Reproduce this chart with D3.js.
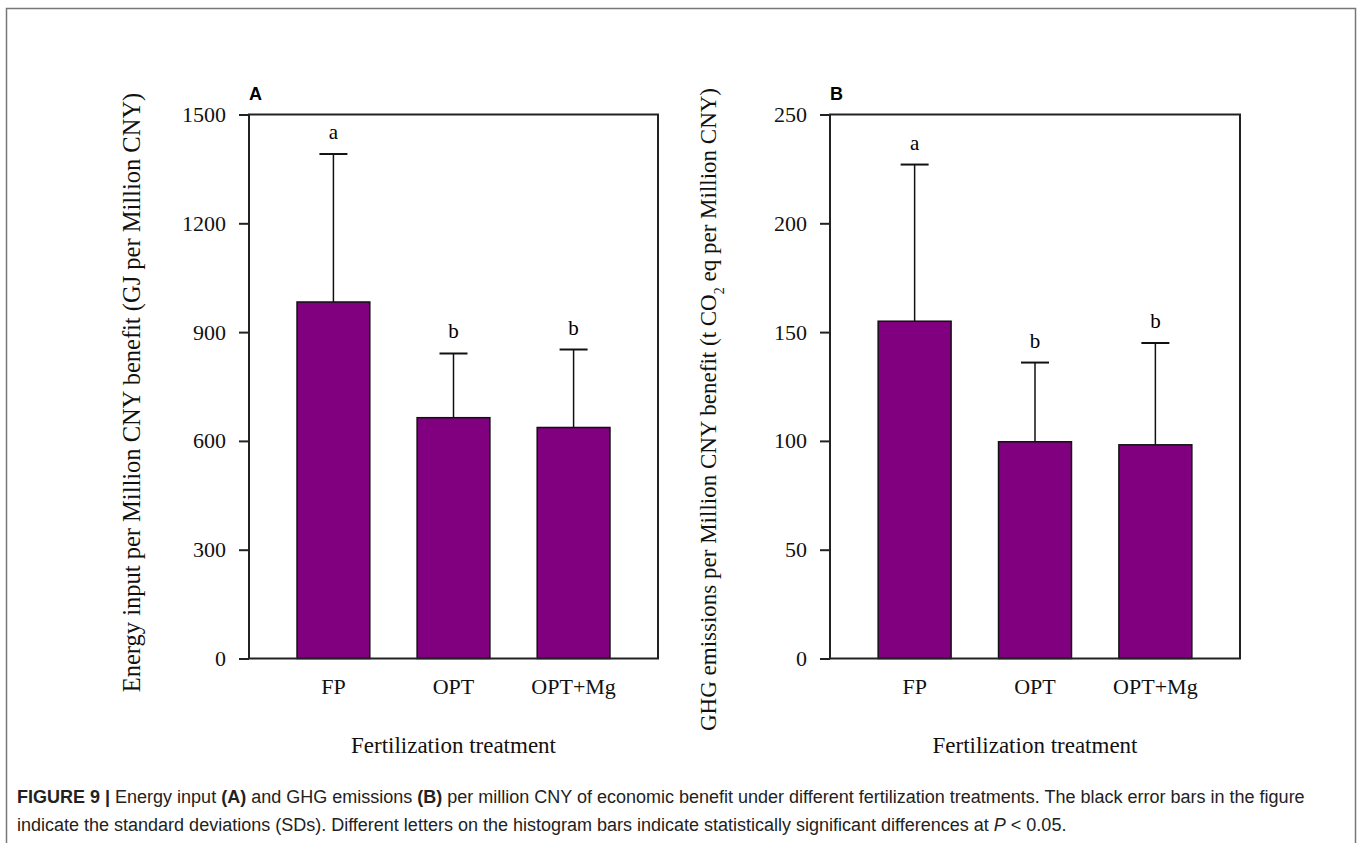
<!DOCTYPE html>
<html>
<head>
<meta charset="utf-8">
<script src="https://cdn.jsdelivr.net/npm/d3@7"></script>
<style>
  body { margin: 0; background: #fff; }
  svg { display: block; }
</style>
</head>
<body>
<div id="chart"></div>
<script>
// data
const categories = ["FP", "OPT", "OPT+Mg"];
const energyMeans = [983, 664, 637];
const energySD = [408, 177, 215];
const energyLetters = ["a", "b", "b"];
const energyTicks = [0, 300, 600, 900, 1200, 1500];

const ghgMeans = [155, 99.6, 98.2];
const ghgSD = [72, 36.4, 46.8];
const ghgLetters = ["a", "b", "b"];
const ghgTicks = [0, 50, 100, 150, 200, 250];

const W = 1362, H = 843;
const serif = "'Liberation Serif', 'Times New Roman', serif";
const sans = "'Liberation Sans', Arial, sans-serif";

const svg = d3.select("#chart")
    .append("svg")
    .attr("width", W)
    .attr("height", H);

// outer frame
svg.append("rect")
    .attr("x", 6.5).attr("y", 8.5)
    .attr("width", 1349).attr("height", 850)
    .attr("fill", "none")
    .attr("stroke", "#777")
    .attr("stroke-width", 1.5);

function drawPanel(opt) {
    const g = svg.append("g")
        .attr("transform", `translate(${opt.left}, ${opt.top})`);

    const x = d3.scaleBand()
        .domain(categories)
        .range([0, opt.width])
        .paddingInner(0.394)
        .paddingOuter(0.4);

    const y = d3.scaleLinear()
        .domain([0, opt.max])
        .range([opt.height, 0]);

    // bars
    g.selectAll("rect.bar")
        .data(opt.means)
        .enter()
        .append("rect")
        .attr("class", "bar")
        .attr("x", (d, i) => x(categories[i]))
        .attr("y", d => y(d))
        .attr("width", x.bandwidth())
        .attr("height", d => opt.height - y(d))
        .attr("fill", "#800080")
        .attr("stroke", "#111")
        .attr("stroke-width", 1.5);

    // error bars (upper only)
    const cx = i => x(categories[i]) + x.bandwidth() / 2;
    g.selectAll("line.err")
        .data(opt.means)
        .enter()
        .append("line")
        .attr("x1", (d, i) => cx(i))
        .attr("x2", (d, i) => cx(i))
        .attr("y1", d => y(d))
        .attr("y2", (d, i) => y(d + opt.sd[i]))
        .attr("stroke", "#111")
        .attr("stroke-width", 1.5);
    g.selectAll("line.cap")
        .data(opt.means)
        .enter()
        .append("line")
        .attr("x1", (d, i) => cx(i) - 14)
        .attr("x2", (d, i) => cx(i) + 14)
        .attr("y1", (d, i) => y(d + opt.sd[i]))
        .attr("y2", (d, i) => y(d + opt.sd[i]))
        .attr("stroke", "#111")
        .attr("stroke-width", 2);

    // significance letters
    g.selectAll("text.letter")
        .data(opt.letters)
        .enter()
        .append("text")
        .attr("x", (d, i) => cx(i))
        .attr("y", (d, i) => y(opt.means[i] + opt.sd[i]) - 15)
        .attr("text-anchor", "middle")
        .style("font-family", serif)
        .style("font-size", "21px")
        .text(d => d);

    // plot box
    g.append("rect")
        .attr("width", opt.width)
        .attr("height", opt.height)
        .attr("fill", "none")
        .attr("stroke", "#222")
        .attr("stroke-width", 2);

    // y axis
    const yAxis = g.append("g")
        .call(d3.axisLeft(y).tickValues(opt.ticks).tickFormat(d3.format("d"))
            .tickSize(10).tickPadding(13));
    yAxis.select(".domain").remove();
    yAxis.selectAll("line").attr("stroke", "#222").attr("stroke-width", 2);
    yAxis.selectAll("text")
        .attr("fill", "#111")
        .style("font-family", serif)
        .style("font-size", "22px");

    // x axis labels
    const xAxis = g.append("g")
        .attr("transform", `translate(0, ${opt.height})`)
        .call(d3.axisBottom(x).tickSize(0).tickPadding(20));
    xAxis.select(".domain").remove();
    xAxis.selectAll("text")
        .attr("fill", "#111")
        .style("font-family", serif)
        .style("font-size", "22px");

    // x title
    g.append("text")
        .attr("x", opt.width / 2)
        .attr("y", opt.height + 94)
        .attr("text-anchor", "middle")
        .attr("fill", "#111")
        .style("font-family", serif)
        .style("font-size", "23px")
        .text("Fertilization treatment");

    // y title
    const yt = g.append("text")
        .attr("transform", `translate(${opt.titleX}, ${opt.titleY}) rotate(-90)`)
        .attr("text-anchor", "middle")
        .attr("dy", "0.35em")
        .attr("fill", "#111")
        .style("font-family", serif)
        .style("font-size", opt.titleSize + "px");
    opt.title.forEach(part => {
        const t = yt.append("tspan").text(part.t);
        if (part.sub) t.attr("baseline-shift", "sub").style("font-size", "14px");
    });

    // panel letter
    g.append("text")
        .attr("x", 0)
        .attr("y", -15)
        .style("font-family", sans)
        .style("font-weight", "bold")
        .style("font-size", "18px")
        .text(opt.panel);
}

drawPanel({
    left: 249, top: 114.5, width: 409, height: 544,
    max: 1500, ticks: energyTicks,
    means: energyMeans, sd: energySD, letters: energyLetters,
    titleX: -118, titleY: 278, titleSize: 24.5, panel: "A",
    title: [{ t: "Energy input per Million CNY benefit (GJ per Million CNY)" }]
});

drawPanel({
    left: 830, top: 114.5, width: 410, height: 544,
    max: 250, ticks: ghgTicks,
    means: ghgMeans, sd: ghgSD, letters: ghgLetters,
    titleX: -122, titleY: 295, titleSize: 23, panel: "B",
    title: [
        { t: "GHG emissions per Million CNY benefit (t CO" },
        { t: "2", sub: true },
        { t: " eq per Million CNY)" }
    ]
});

// caption
const cap = svg.append("text")
    .attr("x", 17)
    .attr("y", 803)
    .attr("fill", "#222")
    .style("font-family", sans)
    .style("font-size", "18px");
[
    { t: "FIGURE 9 | ", b: true },
    { t: "Energy input " },
    { t: "(A)", b: true },
    { t: " and GHG emissions " },
    { t: "(B)", b: true },
    { t: " per million CNY of economic benefit under different fertilization treatments. The black error bars in the figure" }
].forEach(p => {
    const t = cap.append("tspan").text(p.t);
    if (p.b) t.style("font-weight", "bold");
});

const cap2 = svg.append("text")
    .attr("x", 17)
    .attr("y", 831)
    .attr("fill", "#222")
    .style("font-family", sans)
    .style("font-size", "18px");
cap2.append("tspan").text("indicate the standard deviations (SDs). Different letters on the histogram bars indicate statistically significant differences at ");
cap2.append("tspan").style("font-style", "italic").text("P");
cap2.append("tspan").text(" < 0.05.");
</script>
</body>
</html>
